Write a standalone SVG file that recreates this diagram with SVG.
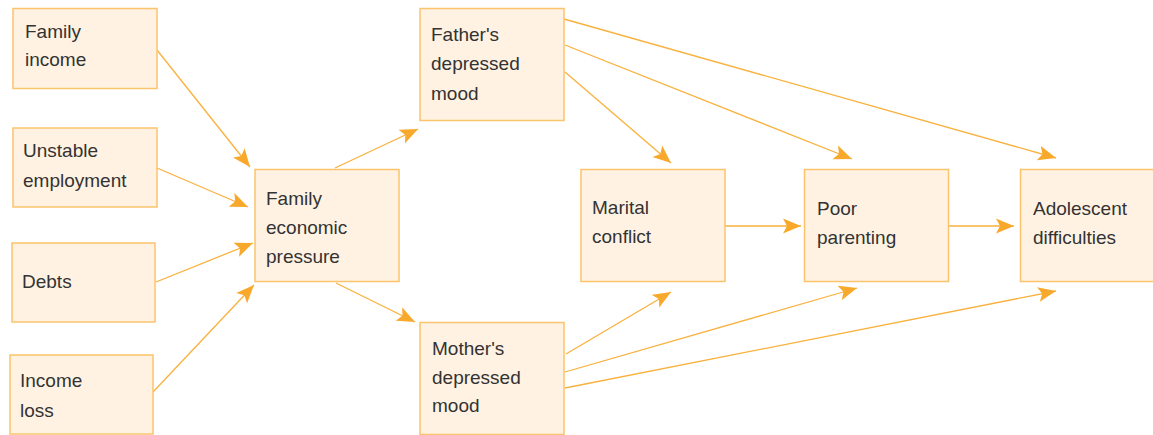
<svg xmlns="http://www.w3.org/2000/svg" width="1153" height="435" viewBox="0 0 1153 435">
<style>
.box{fill:#fff2e2;stroke:#fbc46c;stroke-width:1.5}
.t{font-family:"Liberation Sans",Arial,sans-serif;font-size:19px;fill:#333333}
.c{fill:none;stroke:#f9b13d;stroke-width:1.3;marker-end:url(#ah)}
</style>
<defs>
<marker id="ah" markerUnits="userSpaceOnUse" markerWidth="20" markerHeight="16" refX="18" refY="7.5" orient="auto" viewBox="0 0 20 15">
<path d="M0,0 L18,7.5 L0,15 L4,7.5 Z" fill="#f8a92c"/>
</marker>
</defs>
<rect width="1153" height="435" fill="#ffffff"/>
<g id="connectors">
<line class="c" x1="157" y1="50" x2="250" y2="167"/>
<line class="c" x1="157" y1="168" x2="248" y2="207"/>
<line class="c" x1="156" y1="282" x2="253" y2="243"/>
<line class="c" x1="153" y1="392" x2="254" y2="285"/>
<line class="c" x1="335" y1="168" x2="418" y2="129"/>
<line class="c" x1="336" y1="283" x2="415" y2="322"/>
<line class="c" x1="565" y1="72" x2="671" y2="163"/>
<line class="c" x1="565" y1="45" x2="852" y2="159"/>
<line class="c" x1="564" y1="19" x2="1056" y2="158"/>
<line class="c" x1="725" y1="226" x2="801" y2="226"/>
<line class="c" x1="949" y1="226" x2="1014" y2="226"/>
<line class="c" x1="566" y1="354" x2="671" y2="292"/>
<line class="c" x1="565" y1="372" x2="857" y2="288"/>
<line class="c" x1="565" y1="388" x2="1056" y2="291"/>
</g>
<g id="family-income">
<rect class="box" x="13" y="8.5" width="144" height="80"/>
<text class="t" x="25" y="38">Family</text>
<text class="t" x="25" y="66">income</text>
</g>
<g id="unstable-employment">
<rect class="box" x="13" y="128" width="144" height="79"/>
<text class="t" x="23" y="157">Unstable</text>
<text class="t" x="23" y="187">employment</text>
</g>
<g id="debts">
<rect class="box" x="12" y="243" width="143" height="79"/>
<text class="t" x="22" y="288">Debts</text>
</g>
<g id="income-loss">
<rect class="box" x="10" y="355" width="143" height="79"/>
<text class="t" x="20" y="387">Income</text>
<text class="t" x="20" y="417">loss</text>
</g>
<g id="family-economic-pressure">
<rect class="box" x="255" y="169.5" width="144" height="112"/>
<text class="t" x="266" y="205">Family</text>
<text class="t" x="266" y="234">economic</text>
<text class="t" x="266" y="263">pressure</text>
</g>
<g id="fathers-depressed-mood">
<rect class="box" x="420" y="8.5" width="144" height="112"/>
<text class="t" x="431" y="41">Father's</text>
<text class="t" x="431" y="70">depressed</text>
<text class="t" x="431" y="99.5">mood</text>
</g>
<g id="mothers-depressed-mood">
<rect class="box" x="420" y="322.5" width="144" height="112"/>
<text class="t" x="432" y="355">Mother's</text>
<text class="t" x="432" y="384">depressed</text>
<text class="t" x="432" y="412">mood</text>
</g>
<g id="marital-conflict">
<rect class="box" x="581" y="169.5" width="144" height="112"/>
<text class="t" x="592" y="214">Marital</text>
<text class="t" x="592" y="243">conflict</text>
</g>
<g id="poor-parenting">
<rect class="box" x="804.5" y="169.5" width="144" height="112"/>
<text class="t" x="817" y="215">Poor</text>
<text class="t" x="817" y="244">parenting</text>
</g>
<g id="adolescent-difficulties">
<rect class="box" x="1020.5" y="169.5" width="140" height="112"/>
<text class="t" x="1033" y="215">Adolescent</text>
<text class="t" x="1033" y="244">difficulties</text>
</g>
</svg>
